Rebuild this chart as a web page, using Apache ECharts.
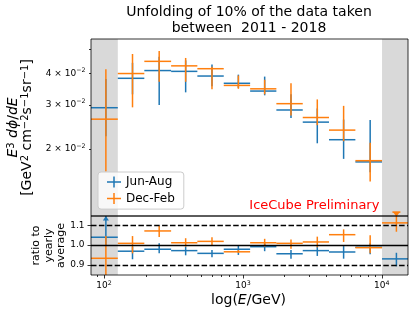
<!DOCTYPE html>
<html><head><meta charset="utf-8">
<script src="https://cdn.jsdelivr.net/npm/echarts@6/dist/echarts.min.js"></script>
<style>html,body{margin:0;padding:0;background:#fff}#c{width:415px;height:316px}</style>
</head><body><div id="c"></div>
<script>
// ---- data (energy bins in log10(E/GeV)) ----
const binEdgesLog = [1.906, 2.099, 2.290, 2.483, 2.672, 2.862, 3.052, 3.241, 3.431, 3.620, 3.810, 4.002, 4.189];
const seasons = ['Jun-Aug', 'Dec-Feb'];
// flux E^3 dphi/dE
const junAug    = [0.0292, 0.0382, 0.0410, 0.0407, 0.0390, 0.0365, 0.0340, 0.0286, 0.0256, 0.0218, 0.0178, null];
const junAugLo  = [0.0225, 0.0330, 0.0299, 0.0336, 0.0355, 0.0350, 0.0327, 0.0266, 0.0211, 0.0183, 0.0162, null];
const junAugHi  = [0.0380, 0.0440, 0.0465, 0.0450, 0.0433, 0.0395, 0.0388, 0.0330, 0.0290, 0.0262, 0.0261, null];
const decFeb    = [0.0263, 0.0399, 0.0446, 0.0428, 0.0417, 0.0358, 0.0347, 0.0303, 0.0267, 0.0238, 0.0180, null];
const decFebLo  = [0.0163, 0.0293, 0.0370, 0.0370, 0.0346, 0.0347, 0.0330, 0.0272, 0.0249, 0.0215, 0.0149, null];
const decFebHi  = [0.0415, 0.0477, 0.0490, 0.0460, 0.0425, 0.0392, 0.0377, 0.0365, 0.0315, 0.0297, 0.0212, null];
// ratio to yearly average
const junRatio   = [1.040, 0.969, 0.979, 0.972, 0.958, 0.979, 0.992, 0.956, 0.972, 0.965, 0.989, 0.930];
const junRatioLo = [1.000, 0.928, 0.958, 0.948, 0.938, 0.950, 0.969, 0.931, 0.945, 0.931, 0.953, 0.892];
const junRatioHi = [1.250, 0.992, 1.009, 0.992, 0.975, 0.999, 1.009, 0.975, 0.992, 0.995, 1.009, 0.961];
const decRatio   = [0.933, 1.009, 1.072, 1.012, 1.019, 0.966, 1.012, 1.009, 1.016, 1.053, 0.987, 1.113];
const decRatioLo = [0.800, 0.958, 1.041, 0.992, 0.999, 0.960, 0.992, 0.982, 0.989, 1.016, 0.958, 1.068];
const decRatioHi = [1.046, 1.046, 1.097, 1.035, 1.040, 0.975, 1.032, 1.029, 1.043, 1.080, 1.050, 1.168];
// axes
const topYRange   = [0.01086, 0.0547];
const topYTicks   = [0.02, 0.03, 0.04, 0.05];
const topYLabels  = [0.02, 0.03, 0.04];
const ratioRange  = [0.848, 1.148];
const ratioTicks  = [0.9, 1.0, 1.1];
const ratioLines  = [1.1, 1.0, 0.9];
const xMajorTicks = [100, 1000, 10000];
const xMinorTicks = [90, 200, 300, 400, 500, 600, 700, 800, 900, 2000, 3000, 4000, 5000, 6000, 7000, 8000, 9000];

const BLUE = '#1f77b4', ORANGE = '#ff7f0e';
const FONT = 'DejaVu Sans';
const L = Math.log10;
const nB = binEdgesLog.length - 1;
const xMin = binEdgesLog[0], xMax = binEdgesLog[nB];
const centers = binEdgesLog.slice(0, -1).map((a, i) => L((Math.pow(10, a) + Math.pow(10, binEdgesLog[i + 1])) / 2));

function rows(v, lo, hi, tf) {
  const out = [];
  v.forEach((val, i) => {
    if (val == null) return;
    out.push([binEdgesLog[i], binEdgesLog[i + 1], centers[i], tf(val), tf(lo[i]), tf(hi[i])]);
  });
  return out;
}
const ident = v => v;

function makeRender(color, overflow, zz) {
  return function (params, api) {
    const cs = params.coordSys;
    const top = cs.y, bottom = cs.y + cs.height;
    const y = api.value(3);
    const pA = api.coord([api.value(0), y]);
    const pB = api.coord([api.value(1), y]);
    const xc = api.coord([api.value(2), y])[0];
    let yLo = api.coord([api.value(2), api.value(4)])[1];
    let yHi = api.coord([api.value(2), api.value(5)])[1];
    const st = {stroke: color, lineWidth: 1.5};
    const ch = [];
    if (yLo > bottom) yLo = bottom;
    if (yHi < top) {
      if (overflow === 'arrowUp') {
        yHi = top;
        ch.push({type: 'polygon', z2: zz, shape: {points: [[xc - 3, top + 4.5], [xc + 3, top + 4.5], [xc, top]]}, style: {fill: color}});
      } else if (overflow === 'capDown') {
        ch.push({type: 'line', z2: zz, shape: {x1: xc - 4, y1: yHi, x2: xc + 4, y2: yHi}, style: st});
        ch.push({type: 'polygon', z2: zz, shape: {points: [[xc - 3.5, yHi], [xc + 3.5, yHi], [xc, yHi + 4.5]]}, style: {fill: color}});
      } else {
        yHi = top;
      }
    }
    ch.unshift({type: 'line', z2: zz, shape: {x1: xc, y1: yLo, x2: xc, y2: yHi}, style: st});
    ch.unshift({type: 'line', z2: zz, shape: {x1: pA[0], y1: pA[1], x2: pB[0], y2: pB[1]}, style: st});
    return {type: 'group', children: ch};
  };
}

const tickStyle = {color: '#000', width: 0.8};
const bands = [
  [{xAxis: binEdgesLog[0]}, {xAxis: binEdgesLog[1]}],
  [{xAxis: binEdgesLog[nB - 1]}, {xAxis: binEdgesLog[nB]}]
];
const crossIcon = 'path://M0,4.75H6.25V0H7.75V4.75H14V6.25H7.75V11H6.25V6.25H0Z';

const chart = echarts.init(document.getElementById('c'), null, {renderer: 'canvas', width: 415, height: 316});
const option = {
  animation: false,
  backgroundColor: '#ffffff',
  textStyle: {fontFamily: FONT},
  grid: [
    {left: 91, top: 39, width: 317, height: 177, show: true, z: 10, backgroundColor: 'transparent', borderColor: '#000', borderWidth: 0.8, containLabel: false, outerBoundsMode: 'none'},
    {left: 91, top: 216, width: 317, height: 59, show: true, z: 10, backgroundColor: 'transparent', borderColor: '#000', borderWidth: 0.8, containLabel: false, outerBoundsMode: 'none'}
  ],
  xAxis: [
    {gridIndex: 0, type: 'value', min: xMin, max: xMax, show: false},
    {gridIndex: 1, type: 'value', min: xMin, max: xMax, position: 'bottom',
      axisLine: {show: false}, splitLine: {show: false},
      axisTick: {show: true, length: 3.5, lineStyle: tickStyle, customValues: xMajorTicks.map(L)},
      axisLabel: {customValues: xMajorTicks.map(L), margin: 5, color: '#000', fontFamily: FONT,
        formatter: v => '{n|10}{s|' + Math.round(v) + '}',
        rich: {n: {fontSize: 9, lineHeight: 12, fontFamily: FONT, color: '#000'}, s: {fontSize: 6.3, lineHeight: 6, verticalAlign: 'top', fontFamily: FONT, color: '#000'}}}},
    {gridIndex: 1, type: 'value', min: xMin, max: xMax, position: 'bottom',
      axisLine: {show: false}, splitLine: {show: false}, axisLabel: {show: false},
      axisTick: {show: true, length: 2, lineStyle: tickStyle, customValues: xMinorTicks.map(L)}}
  ],
  yAxis: [
    {gridIndex: 0, type: 'value', min: L(topYRange[0]), max: L(topYRange[1]),
      axisLine: {show: false}, splitLine: {show: false},
      axisTick: {show: true, length: 2, lineStyle: tickStyle, customValues: topYTicks.map(L)},
      axisLabel: {customValues: topYLabels.map(L), margin: 5.5, color: '#000',
        formatter: v => '{n|' + Math.round(Math.pow(10, v) * 100) + ' × 10}{s|−2}',
        rich: {n: {fontSize: 9, lineHeight: 12, fontFamily: FONT, color: '#000'}, s: {fontSize: 6.3, lineHeight: 6, verticalAlign: 'top', fontFamily: FONT, color: '#000'}}}},
    {gridIndex: 1, type: 'value', min: ratioRange[0], max: ratioRange[1],
      axisLine: {show: false}, splitLine: {show: false},
      axisTick: {show: true, length: 3.5, lineStyle: tickStyle, customValues: ratioTicks},
      axisLabel: {customValues: ratioTicks, margin: 6.5, color: '#000', fontSize: 9, fontFamily: FONT, formatter: v => v.toFixed(1)}}
  ],
  legend: {
    data: seasons.map(n => ({name: n, icon: crossIcon})),
    orient: 'vertical', left: 98, top: 172, itemWidth: 14, itemHeight: 11, itemGap: 2.6,
    padding: [3, 9, 3.5, 9], backgroundColor: 'rgba(255,255,255,0.8)', borderColor: '#cccccc', borderWidth: 1, borderRadius: 3,
    textStyle: {fontFamily: FONT, fontSize: 12, color: '#000', lineHeight: 14},
    itemStyle: {borderWidth: 0}, selectedMode: false, z: 20
  },
  series: [
    {type: 'line', name: '_bandTop', xAxisIndex: 0, yAxisIndex: 0, data: [], z: 1, silent: true,
      markArea: {silent: true, itemStyle: {color: '#d9d9d9', opacity: 1}, data: bands}},
    {type: 'line', name: '_bandRatio', xAxisIndex: 1, yAxisIndex: 1, data: [], z: 1, silent: true,
      markArea: {silent: true, itemStyle: {color: '#d9d9d9', opacity: 1}, data: bands}},
    {type: 'line', name: '_refLines', xAxisIndex: 1, yAxisIndex: 1, data: [], z: 2, silent: true,
      markLine: {silent: true, symbol: ['none', 'none'], label: {show: false},
        lineStyle: {color: '#000', width: 1.3},
        data: ratioLines.map(v => ({yAxis: v, lineStyle: {color: '#000', width: 1.3, type: v === 1 ? 'solid' : [5.5, 2.4]}}))}},
    {type: 'custom', name: seasons[0], xAxisIndex: 0, yAxisIndex: 0, z: 3, itemStyle: {color: BLUE},
      encode: {x: [0, 1, 2], y: [3, 4, 5]}, data: rows(junAug, junAugLo, junAugHi, L), renderItem: makeRender(BLUE, null, 1)},
    {type: 'custom', name: seasons[1], xAxisIndex: 0, yAxisIndex: 0, z: 4, itemStyle: {color: ORANGE},
      encode: {x: [0, 1, 2], y: [3, 4, 5]}, data: rows(decFeb, decFebLo, decFebHi, L), renderItem: makeRender(ORANGE, null, 50)},
    {type: 'custom', name: seasons[0], xAxisIndex: 1, yAxisIndex: 1, z: 3, itemStyle: {color: BLUE},
      encode: {x: [0, 1, 2], y: [3, 4, 5]}, data: rows(junRatio, junRatioLo, junRatioHi, ident), renderItem: makeRender(BLUE, 'arrowUp', 1)},
    {type: 'custom', name: seasons[1], xAxisIndex: 1, yAxisIndex: 1, z: 4, itemStyle: {color: ORANGE},
      encode: {x: [0, 1, 2], y: [3, 4, 5]}, data: rows(decRatio, decRatioLo, decRatioHi, ident), renderItem: makeRender(ORANGE, 'capDown', 50)}
  ],
  graphic: [
    {type: 'text', x: 249, y: 20, silent: true, style: {text: 'Unfolding of 10% of the data taken\nbetween  2011 - 2018',
      fontSize: 14, fontFamily: FONT, fill: '#000', align: 'center', verticalAlign: 'middle', lineHeight: 16}},
    {type: 'text', x: 20.5, y: 127.5, rotation: Math.PI / 2, silent: true, style: {
      text: '{i|E}{s|3}{n| }{i|dϕ}{n|/}{i|dE}\n{n|[GeV}{s|2}{n| cm}{s|−2}{n|s}{s|−1}{n|sr}{s|−1}{n|]}',
      align: 'center', verticalAlign: 'middle', fill: '#000',
      rich: {
        n: {fontSize: 14, lineHeight: 14, fontFamily: FONT, fill: '#000'},
        i: {fontSize: 14, lineHeight: 14, fontFamily: FONT, fontStyle: 'italic', fill: '#000'},
        s: {fontSize: 10, lineHeight: 9, fontFamily: FONT, verticalAlign: 'top', fill: '#000'}
      }}},
    {type: 'text', x: 49, y: 245.5, rotation: Math.PI / 2, silent: true, style: {
      text: 'ratio to\nyearly\naverage', fontSize: 11, lineHeight: 12.5, fontFamily: FONT, fill: '#000', align: 'center', verticalAlign: 'middle'}},
    {type: 'text', x: 248.5, y: 300, silent: true, style: {
      text: '{n|log(}{i|E}{n|/GeV)}', align: 'center', verticalAlign: 'middle', fill: '#000',
      rich: {n: {fontSize: 14, fontFamily: FONT, fill: '#000'}, i: {fontSize: 14, fontFamily: FONT, fontStyle: 'italic', fill: '#000'}}}},
    {type: 'text', x: 249.3, y: 206, silent: true, style: {
      text: 'IceCube Preliminary', fontSize: 13, fontFamily: FONT, fill: '#ff0000', align: 'left', verticalAlign: 'middle'}}
  ]
};
chart.setOption(option);
</script>
</body></html>
